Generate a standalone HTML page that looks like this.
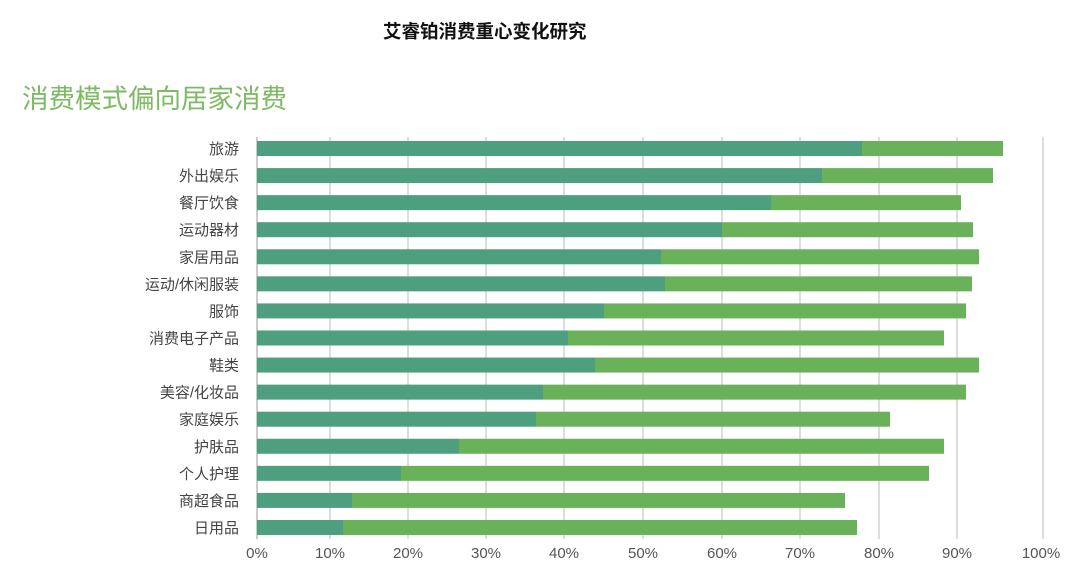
<!DOCTYPE html>
<html><head><meta charset="utf-8"><style>
body{margin:0;width:1080px;height:562px;background:#fff;position:relative;overflow:hidden;font-family:"Liberation Sans","Noto Sans CJK SC",sans-serif}
.t{position:absolute;white-space:nowrap}
</style></head><body>
<div class="t" style="left:383px;top:18px;font-size:18.5px;font-weight:bold;color:#111">艾睿铂消费重心变化研究</div>
<div class="t" style="left:22px;top:77px;font-size:26.5px;color:#7dba63">消费模式偏向居家消费</div>
<svg width="1080" height="562" style="position:absolute;left:0;top:0" font-family="Liberation Sans, Noto Sans CJK SC, sans-serif">
<g stroke="#bbb" stroke-width="1">
<line x1="330" y1="137" x2="330" y2="539"/><line x1="408" y1="137" x2="408" y2="539"/><line x1="486" y1="137" x2="486" y2="539"/><line x1="564" y1="137" x2="564" y2="539"/><line x1="643" y1="137" x2="643" y2="539"/><line x1="722" y1="137" x2="722" y2="539"/><line x1="800" y1="137" x2="800" y2="539"/><line x1="879" y1="137" x2="879" y2="539"/><line x1="957" y1="137" x2="957" y2="539"/><line x1="1043" y1="137" x2="1043" y2="539"/>
</g>
<line x1="257" y1="137" x2="257" y2="539" stroke="#999"/>
<g id="bars"></g>
<g font-size="15" fill="#555" text-anchor="middle">
<text x="257" y="558">0%</text><text x="330" y="558">10%</text><text x="408" y="558">20%</text><text x="486" y="558">30%</text><text x="564" y="558">40%</text><text x="643" y="558">50%</text><text x="722" y="558">60%</text><text x="800" y="558">70%</text><text x="879" y="558">80%</text><text x="957" y="558">90%</text><text x="1041" y="558">100%</text>
</g>
</svg>
<script>
var d=[["旅游",862,1003],["外出娱乐",822,993],["餐厅饮食",771,961],["运动器材",722,973],["家居用品",661,979],["运动/休闲服装",665,972],["服饰",604,966],["消费电子产品",568,944],["鞋类",595,979],["美容/化妆品",543,966],["家庭娱乐",536,890],["护肤品",459,944],["个人护理",401,929],["商超食品",352,845],["日用品",343,857]];
var g=document.getElementById('bars'),s='';
d.forEach(function(r,i){var y=141+i*27.07;
s+='<rect x="257" y="'+y+'" width="'+(r[1]-257)+'" height="15" fill="#4e9e80"/>';
s+='<rect x="'+r[1]+'" y="'+y+'" width="'+(r[2]-r[1])+'" height="15" fill="#6ab25a"/>';
s+='<text x="239" y="'+(y+13)+'" font-size="15" fill="#444" text-anchor="end">'+r[0]+'</text>';});
g.innerHTML=s;
</script>
</body></html>
